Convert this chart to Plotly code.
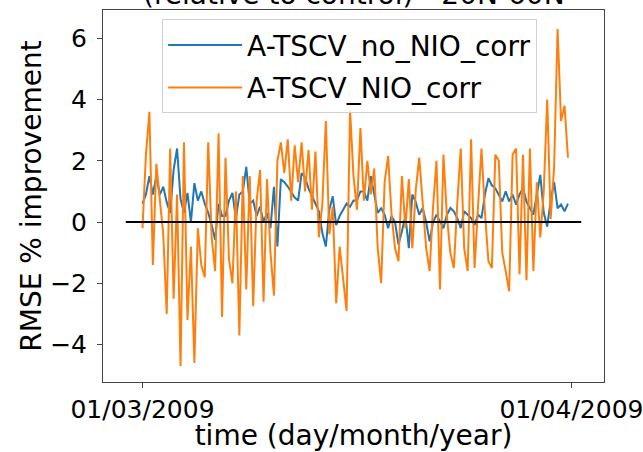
import numpy as np
import pandas as pd
import plotly.graph_objects as go

# 6-hourly analysis times, 1–31 March 2009
times = pd.date_range("2009-03-01 00:00", periods=124, freq="6h")

# RMSE % improvement relative to control, 20N-60N
no_nio_corr = [
    0.6, 0.9, 1.5, 0.9, 1.5, 0.9, 1.15, 0.65, 0.3, 1.7,
    2.4, 0.75, 0.3, 0.95, 0.0, 1.27, 0.7, 1.0, 0.6, 0.3,
    -0.1, -0.58, 0.6, 0.2, 0.2, 0.7, 0.95, 0.1, 0.9, 1.0,
    1.8, 0.6, 0.7, 0.2, 0.5, 0.0, 0.3, -0.2, 1.15, -0.8,
    1.4, 1.3, 1.16, 1.0, 0.8, 0.7, 1.6, 1.45, 1.1, 0.85,
    0.6, 0.35, -0.36, -0.8, 0.4, 0.84, -0.1, 0.2, 0.4, 0.6,
    0.5, 0.7, 0.7, 1.0, 1.0, 0.7, 1.5, 0.9, 0.3, 0.45,
    0.24, -0.2, 0.2, 0.0, -0.74, -0.3, 0.2, -0.85, 0.9, 0.65,
    0.24, 0.46, 0.0, -0.63, 0.0, 0.24, 0.0, -0.2, 0.24, 0.46,
    0.35, 0.13, -0.2, 0.35, 0.24, 0.13, -0.1, 0.24, 0.13, 0.9,
    1.43, 1.2, 1.1, 0.9, 0.67, 1.0, 0.67, 0.9, 0.57, 0.9,
    1.1, 0.67, 0.46, 0.24, 0.9, 1.54, 0.3, -0.15, 0.7, 1.3,
    0.45, 0.57, 0.35, 0.6,
]

nio_corr = [
    -0.2, 2.2, 3.6, -1.4, 1.9, 0.7, -0.4, -3.0, 2.4, -2.5,
    0.9, -4.7, 2.6, -3.2, -0.8, -4.6, -0.2, -1.4, -1.8, 2.6,
    -0.5, -1.6, 2.9, -3.1, 2.1, -1.2, -2.0, 1.0, -3.7, 1.5,
    -2.2, 1.5, -2.75, 0.7, 1.7, -2.6, 1.4, -1.0, -2.4, 2.0,
    2.6, 1.6, 2.7, 0.7, 2.5, 1.3, 2.6, 1.0, 2.35, 0.4,
    2.3, -0.5, 0.6, 3.3, -0.4, 0.5, -2.65, -0.8, -1.8, -2.9,
    3.66, 1.5, 0.4, 3.07, 0.7, 2.0, 0.9, 1.75, -0.85, -2.0,
    1.3, 2.15, 0.24, -0.85, -1.28, 1.5, -0.2, 1.4, -0.85, 1.05,
    2.1, 0.46, -0.85, -1.6, 0.5, 2.0, -2.2, 2.2, 0.2, -1.0,
    -1.5, 0.6, 2.4, -0.85, -1.6, 2.7, -1.5, 0.5, 2.4, 0.3,
    -1.28, -1.5, 2.2, 2.0, -1.0, -1.6, -2.26, 2.2, 2.4, -1.7,
    2.2, -1.9, 2.4, -1.6, 1.3, -0.5, 1.0, 4.0, 0.1, 1.8,
    6.3, 3.3, 3.8, 2.1,
]

# horizontal reference line at zero
zero_line_x = ["2009-02-27 19:00", "2009-04-01 17:00"]
zero_line_y = [0, 0]

tick_dates = ["2009-03-01", "2009-04-01"]
tick_text = ["01/03/2009", "01/04/2009"]
y_ticks = [-4, -2, 0, 2, 4, 6]

font = "DejaVu Sans"

fig = go.Figure()
fig.add_trace(go.Scatter(
    x=times, y=no_nio_corr, mode="lines", name="A-TSCV_no_NIO_corr",
    line=dict(color="#1f77b4", width=2), legendgroup="a",
))
fig.add_trace(go.Scatter(
    x=times, y=nio_corr, mode="lines", name="A-TSCV_NIO_corr",
    line=dict(color="#ff7f0e", width=2), legendgroup="b",
))
fig.add_trace(go.Scatter(
    x=pd.to_datetime(zero_line_x), y=zero_line_y, mode="lines",
    line=dict(color="black", width=2), showlegend=False,
))

# pad the x range by 5% of the reference line span on each side
x0, x1 = pd.to_datetime(zero_line_x)
pad = (x1 - x0) * 0.05

fig.update_layout(
    width=643, height=452,
    margin=dict(l=103, r=39, t=10, b=70, autoexpand=False),
    paper_bgcolor="white", plot_bgcolor="white",
    font=dict(family=font, color="black", size=25),
    showlegend=True,
    legend=dict(
        x=0.118, y=0.975, xanchor="left", yanchor="top",
        bgcolor="rgba(255,255,255,0.85)", bordercolor="#d0d0d0", borderwidth=1,
        font=dict(family=font, size=28, color="black"),
        tracegroupgap=3, itemwidth=74,
    ),
    xaxis=dict(
        range=[x0 - pad, x1 + pad], automargin=False,
        tickmode="array", tickvals=pd.to_datetime(tick_dates), ticktext=tick_text,
        showgrid=False, zeroline=False,
        showline=True, mirror=True, linecolor="#444", linewidth=1,
        ticks="outside", ticklen=5, tickcolor="#444",
        tickfont=dict(size=25), ticklabeloverflow="allow",
        title=dict(text="time (day/month/year)", font=dict(size=28), standoff=3),
    ),
    yaxis=dict(
        range=[-5.22, 6.92], automargin=False,
        tickmode="array", tickvals=y_ticks,
        ticktext=[("\u2212" + str(-v)) if v < 0 else str(v) for v in y_ticks],
        showgrid=False, zeroline=False,
        showline=True, mirror=True, linecolor="#444", linewidth=1,
        ticks="outside", ticklen=5, tickcolor="#444",
        tickfont=dict(size=25), ticklabelstandoff=5,
        title=dict(text="RMSE % improvement", font=dict(size=28), standoff=0),
    ),
    annotations=[dict(
        text="(relative to control) - 20N-60N",
        xref="paper", yref="paper", x=0.5, y=0.992,
        xanchor="center", yanchor="bottom", showarrow=False,
        font=dict(family=font, size=28, color="black"),
    )],
)

fig.write_html("out.html")
